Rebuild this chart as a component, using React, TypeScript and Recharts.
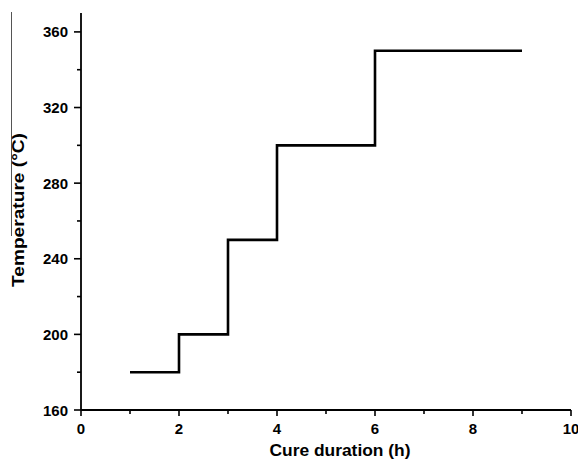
import React from 'react';
import { LineChart, Line, XAxis, YAxis, Label } from 'recharts';

const cureHours = [1, 2, 3, 4, 6, 9];
const temperatures = [180, 200, 250, 300, 350, 350];
const xTicks = [0, 1, 2, 3, 4, 5, 6, 7, 8, 9, 10];
const yTicks = [160, 180, 200, 220, 240, 260, 280, 300, 320, 340, 360];
const xLabelTicks = [0, 2, 4, 6, 8, 10];
const yLabelTicks = [160, 200, 240, 280, 320, 360];

const data = cureHours.map((h, i) => ({ h, t: temperatures[i] }));

const FONT = 'Liberation Sans, Arial, sans-serif';

const XTick = (props: any) => {
  const { x, y, payload } = props;
  const major = xLabelTicks.includes(payload.value);
  return (
    <g>
      <line x1={x} x2={x} y1={y} y2={y + (major ? 6 : 4)} stroke="#000" strokeWidth={1.6} />
      {major && (
        <text x={x} y={y + 23.5} textAnchor="middle" fontFamily={FONT} fontWeight="bold" fontSize={15} fill="#000">
          {payload.value}
        </text>
      )}
    </g>
  );
};

const YTick = (props: any) => {
  const { x, y, payload } = props;
  const major = yLabelTicks.includes(payload.value);
  return (
    <g>
      <line x1={x} x2={x - (major ? 7 : 4)} y1={y} y2={y} stroke="#000" strokeWidth={1.6} />
      {major && (
        <text x={x - 13} y={y + 5.5} textAnchor="end" fontFamily={FONT} fontWeight="bold" fontSize={15} fill="#000">
          {payload.value}
        </text>
      )}
    </g>
  );
};

const XLabel = (props: any) => {
  const vb = props.viewBox || { x: 81, y: 410, width: 490, height: 51 };
  const cx = vb.x + vb.width / 2 + 14;
  const by = vb.y + 46;
  return (
    <text
      x={cx}
      y={by}
      textAnchor="middle"
      fontFamily={FONT}
      fontWeight="bold"
      fontSize={16}
      textLength={141}
      lengthAdjust="spacingAndGlyphs"
      fill="#000"
    >
      Cure duration (h)
    </text>
  );
};

const YLabel = () => {
  return (
    <g>
      <line x1={11.5} x2={11.5} y1={12} y2={236} stroke="#555" strokeWidth={1} />
      <text
        x={18.5}
        y={210}
        transform="rotate(-90 18.5 210)"
        textAnchor="middle"
        dominantBaseline="central"
        fontFamily={FONT}
        fontWeight="bold"
        fontSize={16}
        textLength={154}
        lengthAdjust="spacingAndGlyphs"
        fill="#000"
      >
        Temperature (°C)
      </text>
    </g>
  );
};

export default function App() {
  return (
    <div style={{ position: 'absolute', left: 0, top: 0, background: '#fff' }}>
      <LineChart width={578} height={461} data={data} margin={{ top: 13, right: 7, bottom: 0, left: 21 }}>
        <XAxis
          dataKey="h"
          type="number"
          domain={[0, 10]}
          ticks={xTicks}
          interval={0}
          tick={<XTick />}
          tickLine={false}
          tickSize={0}
          tickMargin={0}
          height={51}
          axisLine={{ stroke: '#000', strokeWidth: 1.8 }}
        >
          <Label content={<XLabel />} />
        </XAxis>
        <YAxis
          type="number"
          domain={[160, 370]}
          ticks={yTicks}
          interval={0}
          tick={<YTick />}
          tickLine={false}
          tickSize={0}
          tickMargin={0}
          width={60}
          axisLine={{ stroke: '#000', strokeWidth: 1.8 }}
        >
          <Label content={<YLabel />} />
        </YAxis>
        <Line
          type="stepAfter"
          dataKey="t"
          stroke="#000"
          strokeWidth={2.6}
          dot={false}
          isAnimationActive={false}
        />
      </LineChart>
    </div>
  );
}
